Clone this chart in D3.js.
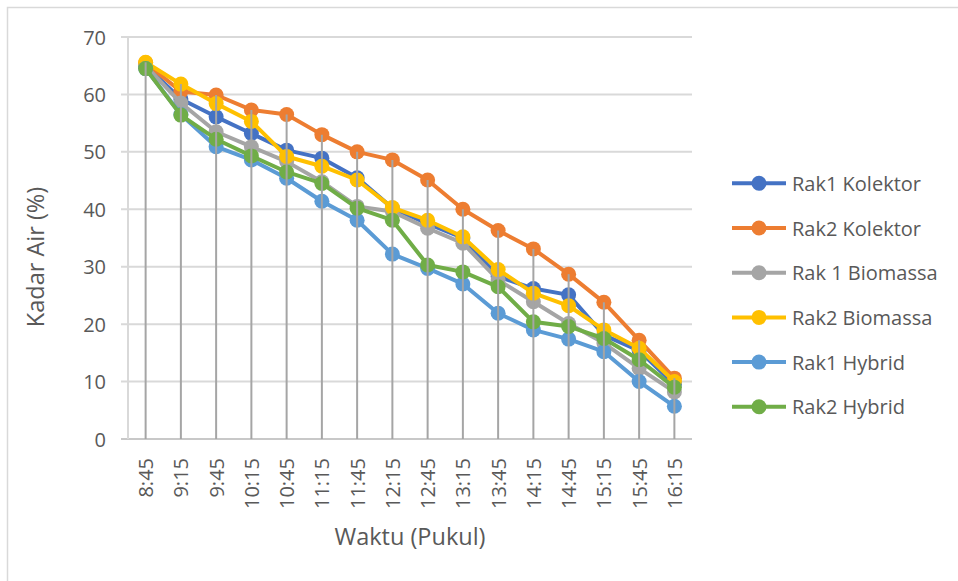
<!DOCTYPE html>
<html><head><meta charset="utf-8">
<script src="https://cdn.jsdelivr.net/npm/d3@7"></script>
<style>body{margin:0;background:#fff}svg{display:block}text{font-family:"Open Sans",sans-serif;fill:#595959}</style>
</head><body><svg id="c" width="958" height="581"></svg>
<script>
const categories = ["8:45","9:15","9:45","10:15","10:45","11:15","11:45","12:15","12:45","13:15","13:45","14:15","14:45","15:15","15:45","16:15"];
const seriesNames = ["Rak1 Kolektor","Rak2 Kolektor","Rak 1 Biomassa","Rak2 Biomassa","Rak1 Hybrid","Rak2 Hybrid"];
const seriesColors = ["#4472C4","#ED7D31","#A5A5A5","#FFC000","#5B9BD5","#70AD47"];
const rak1Kolektor  = [65, 59.2, 56.1, 53.2, 50.3, 48.9, 45.5, 40.2, 37.5, 35, 28.3, 26.2, 25.1, 18.1, 15.4, 9.5];
const rak2Kolektor  = [65.5, 60.5, 59.9, 57.3, 56.5, 53, 50, 48.6, 45.1, 40, 36.3, 33.1, 28.7, 23.8, 17.2, 10.6];
const rak1Biomassa  = [65, 58.5, 53.5, 50.9, 48.3, 44.8, 40.5, 39.6, 36.7, 34.1, 27.7, 23.9, 20.1, 16.7, 12.3, 8.2];
const rak2Biomassa  = [65.6, 61.8, 58.4, 55.3, 49.2, 47.5, 45.1, 40.3, 38.1, 35.2, 29.5, 25.4, 23.2, 19, 15.8, 10];
const rak1Hybrid    = [64.5, 56.5, 50.9, 48.6, 45.4, 41.4, 38.1, 32.2, 29.7, 27, 21.9, 19, 17.4, 15.2, 10, 5.7];
const rak2Hybrid    = [64.5, 56.4, 52.2, 49.3, 46.5, 44.5, 40.2, 38.1, 30.3, 29.1, 26.5, 20.4, 19.6, 17.5, 13.8, 9];
const yTicks = [0,10,20,30,40,50,60,70];
const xTitle = "Waktu (Pukul)", yTitle = "Kadar Air (%)";

const allSeries = [rak1Kolektor, rak2Kolektor, rak1Biomassa, rak2Biomassa, rak1Hybrid, rak2Hybrid];
const svg = d3.select("#c");
const L = 128, R = 692, T = 37, B = 439;
const x = d3.scaleBand().domain(categories).range([L, R]);
const cx = d => x(d) + x.bandwidth()/2;
const y = d3.scaleLinear().domain([0,70]).range([B, T]);

// chart border
svg.append("rect").attr("x",7.5).attr("y",7.5).attr("width",1000).attr("height",1000)
  .attr("fill","none").attr("stroke","#d9d9d9").attr("stroke-width",1.5);

// gridlines + y labels
const gy = svg.append("g");
yTicks.forEach(t => {
  gy.append("line").attr("x1",121).attr("x2",R).attr("y1",y(t)).attr("y2",y(t))
    .attr("stroke", t===0 ? "#c8c8c8" : "#d9d9d9").attr("stroke-width",2);
  gy.append("text").attr("x",106).attr("y",y(t)).attr("text-anchor","end")
    .attr("dominant-baseline","central").attr("font-size",20).text(t);
});
svg.append("line").attr("x1",L).attr("x2",L).attr("y1",T).attr("y2",B)
  .attr("stroke","#d9d9d9").attr("stroke-width",2);

// x labels
categories.forEach(c => {
  svg.append("text").attr("transform",`translate(${cx(c)},458) rotate(-90)`)
    .attr("text-anchor","end").attr("dominant-baseline","central").attr("font-size",20).text(c);
});

// series lines and markers
const line = d3.line().x((d,i)=>cx(categories[i])).y(d=>y(d));
allSeries.forEach((s,k) => {
  svg.append("path").attr("d",line(s)).attr("fill","none")
    .attr("stroke",seriesColors[k]).attr("stroke-width",4).attr("stroke-linejoin","round");
  svg.append("g").selectAll("circle").data(s).join("circle")
    .attr("cx",(d,i)=>cx(categories[i])).attr("cy",d=>y(d)).attr("r",7.5)
    .attr("fill",seriesColors[k]);
});

// drop lines
categories.forEach((c,i) => {
  const top = d3.max(allSeries, s => s[i]);
  svg.append("line").attr("x1",cx(c)).attr("x2",cx(c)).attr("y1",y(top)).attr("y2",y(0))
    .attr("stroke","#a5a5a5").attr("stroke-width",2);
});

// titles
svg.append("text").attr("x",410).attr("y",545).attr("text-anchor","middle").attr("font-size",23.5).text(xTitle);
svg.append("text").attr("transform","translate(35,257) rotate(-90)").attr("text-anchor","middle")
  .attr("dominant-baseline","central").attr("font-size",23.5).text(yTitle);

// legend
seriesNames.forEach((n,k) => {
  const ly = 183.3 + k*44.7;
  const g = svg.append("g");
  g.append("line").attr("x1",732).attr("x2",786).attr("y1",ly).attr("y2",ly)
    .attr("stroke",seriesColors[k]).attr("stroke-width",4);
  g.append("circle").attr("cx",759).attr("cy",ly).attr("r",7.5).attr("fill",seriesColors[k]);
  g.append("text").attr("x",792).attr("y",ly).attr("dominant-baseline","central").attr("font-size",20).text(n);
});
</script></body></html>
